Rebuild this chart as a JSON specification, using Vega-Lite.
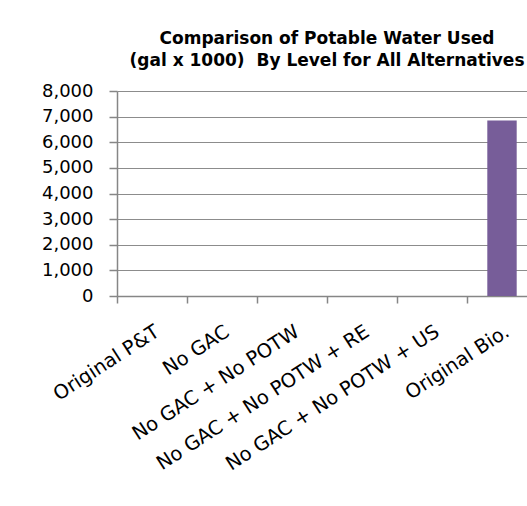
{
  "$schema": "https://vega.github.io/schema/vega-lite/v6.json",
  "autosize": "none",
  "width": 420,
  "height": 205,
  "padding": {"left": 117, "top": 91, "right": -10, "bottom": 210},
  "background": "white",
  "title": {
    "text": ["Comparison of Potable Water Used", "(gal x 1000)\u00a0 By Level for All Alternatives"],
    "font": "DejaVu Sans",
    "fontSize": 17,
    "fontWeight": "bold",
    "color": "black",
    "anchor": "middle",
    "frame": "group",
    "lineHeight": 22,
    "offset": 12
  },
  "data": {
    "values": [
      {"alternative": "Original P&T", "water": 0},
      {"alternative": "No GAC", "water": 0},
      {"alternative": "No GAC + No POTW", "water": 0},
      {"alternative": "No GAC + No POTW + RE", "water": 0},
      {"alternative": "No GAC + No POTW + US", "water": 0},
      {"alternative": "Original Bio.", "water": 6850}
    ]
  },
  "mark": {"type": "bar", "width": {"band": 0.42}, "color": "#775D99"},
  "encoding": {
    "x": {
      "field": "alternative",
      "type": "nominal",
      "sort": null,
      "scale": {"paddingInner": 0, "paddingOuter": 0},
      "axis": {
        "title": null,
        "labelAngle": -33,
        "labelFont": "DejaVu Sans",
        "labelFontSize": 19.5,
        "labelColor": "black",
        "labelLimit": 0,
        "tickBand": "extent",
        "tickSize": 7,
        "tickWidth": 1.5,
        "tickColor": "#868686",
        "domainColor": "#868686",
        "domainWidth": 1.5,
        "labelPadding": 19,
        "grid": false
      }
    },
    "y": {
      "field": "water",
      "type": "quantitative",
      "scale": {"domain": [0, 8000], "nice": false},
      "axis": {
        "title": null,
        "values": [0, 1000, 2000, 3000, 4000, 5000, 6000, 7000, 8000],
        "format": ",d",
        "labelFont": "DejaVu Sans",
        "labelFontSize": 18,
        "labelColor": "black",
        "tickSize": 8,
        "tickWidth": 1.5,
        "tickColor": "#868686",
        "domainColor": "#868686",
        "domainWidth": 1.5,
        "labelPadding": 16,
        "grid": true,
        "gridColor": "#8c8c8c",
        "gridWidth": 1.2
      }
    }
  },
  "config": {"view": {"stroke": null}}
}
